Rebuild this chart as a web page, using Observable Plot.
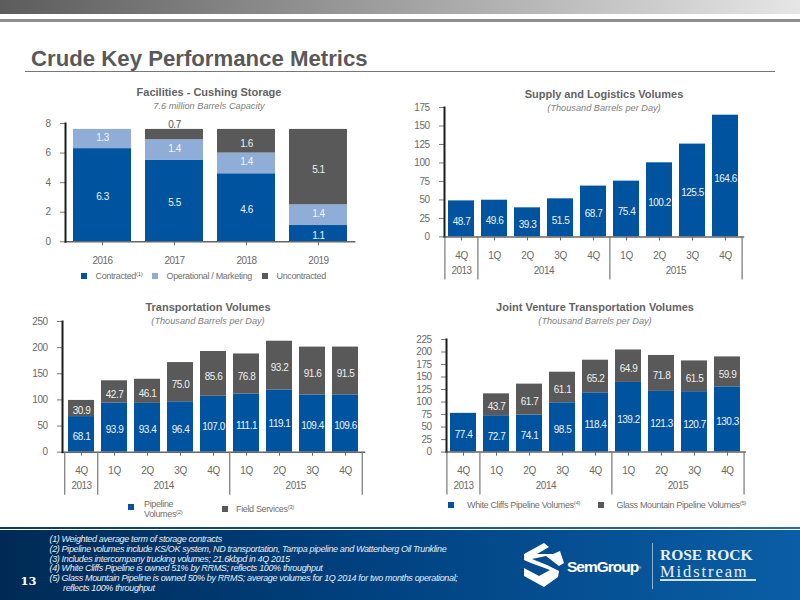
<!DOCTYPE html>
<html><head><meta charset="utf-8">
<script src="https://cdn.jsdelivr.net/npm/d3@7"></script>
<script src="https://cdn.jsdelivr.net/npm/@observablehq/plot@0.6"></script>
<style>
html,body{margin:0;padding:0;background:#fff;}
#page{position:relative;width:800px;height:600px;overflow:hidden;font-family:"Liberation Sans",Arial,sans-serif;}
.abs{position:absolute;white-space:nowrap;line-height:1;}
.ct{position:absolute;white-space:nowrap;transform:translate(-50%,-50%);line-height:1;}
.title{font-weight:bold;font-size:11px;color:#636363;}
.sub{font-style:italic;font-size:9.2px;color:#808080;}
.sq{position:absolute;width:6px;height:6px;}
.lg{position:absolute;white-space:nowrap;font-size:9px;letter-spacing:-.35px;color:#707070;transform:translateY(-50%);line-height:1.15;}
sup{font-size:6px;line-height:0;vertical-align:3px;}
</style></head><body><div id="page"></div>
<script>
const BLUE="#00539f", LIGHT="#8fadd6", DARK="#595959";
const quarters=["4Q13","1Q14","2Q14","3Q14","4Q14","1Q15","2Q15","3Q15","4Q15"];
const groupStarts=["4Q13","1Q14","1Q15"];
const yearLabels=["2013","2014","2015"];
const yearAnchors=["4Q13","3Q14","3Q15"];

const storageYears=["2016","2017","2018","2019"];
const contracted=[6.3,5.5,4.6,1.1];
const operational=[1.3,1.4,1.4,1.4];
const uncontracted=[0,0.7,1.6,5.1];

const supplyLogistics=[48.7,49.6,39.3,51.5,68.7,75.4,100.2,125.5,164.6];

const pipelineVolumes=[68.1,93.9,93.4,96.4,107.0,111.1,119.1,109.4,109.6];
const fieldServices=[30.9,42.7,46.1,75.0,85.6,76.8,93.2,91.6,91.5];

const whiteCliffs=[77.4,72.7,74.1,98.5,118.4,139.2,121.3,120.7,130.3];
const glassMountain=[0,43.7,61.7,61.1,65.2,64.9,71.8,61.5,59.9];

const footnotes=[
 "(1) Weighted average term of storage contracts",
 "(2) Pipeline volumes include KS/OK system, ND transportation, Tampa pipeline and Wattenberg Oil Trunkline",
 "(3) Includes intercompany trucking volumes; 21.6kbpd in 4Q 2015",
 "(4) White Cliffs Pipeline is owned 51% by RRMS; reflects 100% throughput",
 "(5) Glass Mountain Pipeline is owned 50% by RRMS; average volumes for 1Q 2014 for two months operational;",
 "reflects 100% throughput"];

const page=document.getElementById("page");
function add(html){page.insertAdjacentHTML("beforeend",html);}

function long(cats,series){
  return series.flatMap(s=>cats.map((c,i)=>({cat:c,series:s.name,v:s.values[i]})));
}

function chart({cats,series,yDomain,yTicks,axisX,axisR,yTop,y0,quarterly,fontSize=10,extra=[]}){
  const mL=32,mR=12,mT=8,mB=52;
  const w=mL+(axisR-axisX)+mR, h=mT+(y0-yTop)+mB;
  const plotH=y0-yTop;
  const step=(axisR-axisX)/cats.length;
  const data=long(cats,series);
  const marks=[
    Plot.barY(data,Plot.stackY({x:"cat",y:"v",z:"series",fill:"series"})),
    ...series.map(s=>Plot.text(data,Plot.filter(d=>d.series===s.name&&d.v>=1,Plot.stackY({
      x:"cat",y:"v",z:"series",text:d=>d.v.toFixed(1),fill:s.text,fontSize:fontSize,dy:s.dy})))),
    Plot.axisY({ticks:yTicks,tickSize:5,tickPadding:10,stroke:"#777",fill:"#6a6a6a",fontSize:fontSize,label:null,strokeWidth:1}),
    Plot.axisX({tickSize:4,tickPadding:11,stroke:"#666",fill:"#6a6a6a",fontSize:fontSize,label:null,
      tickFormat:quarterly?(d=>d.slice(0,2)):(d=>d)}),
    Plot.frame({anchor:"bottom",stroke:"#666",strokeWidth:1.5}),
    Plot.frame({anchor:"left",stroke:"#1c1c1c",strokeWidth:2}),
    ...extra
  ];
  if(quarterly){
    marks.push(
      Plot.ruleX(groupStarts,{x:d=>d,dx:-step/2,stroke:"#777",strokeWidth:1.2,insetTop:plotH,insetBottom:-43}),
      Plot.ruleX(["4Q15"],{x:d=>d,dx:step/2,stroke:"#777",strokeWidth:1.2,insetTop:plotH,insetBottom:-43}),
      ...yearLabels.map((lab,i)=>Plot.text([lab],{x:()=>yearAnchors[i],text:d=>d,frameAnchor:"bottom",
        dx:i===0?0:-step/2,dy:34,fill:"#6a6a6a",fontSize:fontSize,lineAnchor:"middle"}))
    );
  }
  const svg=Plot.plot({width:w,height:h,marginLeft:mL,marginRight:mR,marginTop:mT,marginBottom:mB,
    style:{background:"transparent",fontFamily:'"Liberation Sans",Arial,sans-serif',overflow:"visible",letterSpacing:"-0.5px"},
    x:{type:"band",domain:cats,paddingInner:0.2,paddingOuter:0.1,align:0.5,label:null},
    y:{domain:yDomain,label:null},
    color:{domain:series.map(s=>s.name),range:series.map(s=>s.fill)},
    marks});
  svg.style.position="absolute";
  svg.style.left=(axisX-mL)+"px";
  svg.style.top=(yTop-mT)+"px";
  page.appendChild(svg);
}

/* slide furniture */
add(`<div style="position:absolute;left:0;top:0;width:800px;height:14px;background:linear-gradient(90deg,#5c5c5c,#9a9a9a 45%,#e6e6e6)"></div>
<div style="position:absolute;left:0;top:19px;width:800px;height:2.5px;background:#8e8e8e"></div>
<div class="abs" style="left:31px;top:47.5px;font-size:22.2px;font-weight:bold;color:#595959">Crude Key Performance Metrics</div>
<div style="position:absolute;left:25px;top:71px;width:750px;height:1px;background:#777"></div>
<div style="position:absolute;left:0;top:526.5px;width:800px;height:2px;background:linear-gradient(90deg,#0b3a5c,#2a6ea3)"></div>
<div style="position:absolute;left:0;top:530px;width:800px;height:70px;background:linear-gradient(90deg,#002a55,#00417f 45%,#0a5ea6)"></div>`);

/* chart titles */
[["Facilities - Cushing Storage",209,92,"7.6 million Barrels Capacity",209,106.5],
 ["Supply and Logistics Volumes",604,94,"(Thousand Barrels per Day)",604,109],
 ["Transportation Volumes",208,307,"(Thousand Barrels per Day)",208,322],
 ["Joint Venture Transportation Volumes",595,307,"(Thousand Barrels per Day)",595,322]
].forEach(([t,x,y,s,sx,sy])=>add(`<div class="ct title" style="left:${x}px;top:${y}px">${t}</div><div class="ct sub" style="left:${sx}px;top:${sy}px">${s}</div>`));

chart({cats:storageYears,quarterly:false,yDomain:[0,8],yTicks:[0,2,4,6,8],axisX:64.5,axisR:353.7,yTop:122.7,y0:241,
  series:[{name:"Contracted",values:contracted,fill:BLUE,text:"#eef3fa",dy:2},
          {name:"Operational / Marketing",values:operational,fill:LIGHT,text:"#f2f5fa",dy:-1.5},
          {name:"Uncontracted",values:uncontracted,fill:DARK,text:"#f0f0f0",dy:2.5}],
  extra:[Plot.text(long(storageYears,[{name:"Uncontracted",values:uncontracted}]).filter(d=>d.v>0&&d.v<1),
    {x:"cat",y:d=>7.6,text:d=>d.v.toFixed(1),fill:"#555",fontSize:10,lineAnchor:"bottom",dy:-1.5})]});

chart({cats:quarters,quarterly:true,yDomain:[0,175],yTicks:d3.range(0,176,25),axisX:443.7,axisR:742.7,yTop:107.3,y0:236.7,
  series:[{name:"Supply and Logistics",values:supplyLogistics,fill:BLUE,text:"#eef3fa",dy:2.5}]});

chart({cats:quarters,quarterly:true,yDomain:[0,250],yTicks:d3.range(0,251,50),axisX:62.3,axisR:364.3,yTop:321,y0:451.7,
  series:[{name:"Pipeline Volumes",values:pipelineVolumes,fill:BLUE,text:"#eef3fa",dy:2.5},
          {name:"Field Services",values:fieldServices,fill:DARK,text:"#f0f0f0",dy:2.5}]});

chart({cats:quarters,quarterly:true,yDomain:[0,225],yTicks:d3.range(0,226,25),axisX:446,axisR:744.7,yTop:338.7,y0:451.3,
  series:[{name:"White Cliffs Pipeline Volumes",values:whiteCliffs,fill:BLUE,text:"#eef3fa",dy:2.5},
          {name:"Glass Mountain Pipeline Volumes",values:glassMountain,fill:DARK,text:"#f0f0f0",dy:2.5}]});

/* legends */
[[81,272.5,BLUE],[152,272.5,LIGHT],[262,272.5,DARK],[128,504,BLUE],[222,506,DARK],[448,502,BLUE],[598,502,DARK]]
 .forEach(([x,y,c])=>add(`<div class="sq" style="left:${x}px;top:${y}px;background:${c}"></div>`));
[[95.5,275.5,"Contracted<sup>(1)</sup>"],[166.5,275.5,"Operational / Marketing"],[276.5,275.5,"Uncontracted"],
 [144,508.5,"Pipeline<br>Volumes<sup>(2)</sup>"],[236,509,"Field Services<sup>(3)</sup>"],
 [467,505,"White Cliffs Pipeline Volumes<sup>(4)</sup>"],[616.5,505,"Glass Mountain Pipeline Volumes<sup>(5)</sup>"]]
 .forEach(([x,y,t])=>add(`<div class="lg" style="left:${x}px;top:${y}px">${t}</div>`));

/* footer */
const fy=[534.5,544.5,554.5,563.5,574,584];
footnotes.forEach((t,i)=>add(`<div class="abs" style="left:${i===5?63:49.5}px;top:${fy[i]}px;font-size:9px;letter-spacing:-.35px;font-style:italic;color:#e8edf3">${t}</div>`));
add(`<div class="abs" style="left:20.5px;top:576px;font-family:'DejaVu Serif';font-weight:bold;font-size:11.5px;color:#fff">13</div>
<svg style="position:absolute;left:523px;top:542px" width="42" height="46" viewBox="0 0 42 46">
<path fill="#fff" d="M1 12 L21 1 L26 5 L14 12 L30 12 L37 9 L41 21 L36 24 L23 14 L9 17 L24 23 L36 29 L35 35 L21 45 L1 34 L1 26 L16 34 L27 28 L8 21 L1 18Z"/></svg>
<div class="abs" style="left:567px;top:559px;font-size:15.5px;font-weight:bold;letter-spacing:-1px;color:#fff">SemGroup<sup style="font-size:4px;font-weight:normal">®</sup></div>
<div style="position:absolute;left:652px;top:543px;width:1px;height:46px;background:#8fb6d8"></div>
<div class="abs" style="left:660px;top:547px;font-family:'Liberation Serif';font-weight:bold;font-size:15.5px;letter-spacing:0;color:#e8f0f8">ROSE ROCK</div>
<div class="abs" style="left:660px;top:563.5px;font-family:'Liberation Serif';font-size:16.5px;letter-spacing:1.9px;color:#e8f0f8">Midstream</div>
<div style="position:absolute;left:660px;top:578.5px;width:96px;height:2px;background:#cfe0ef"></div>`);
</script></body></html>
